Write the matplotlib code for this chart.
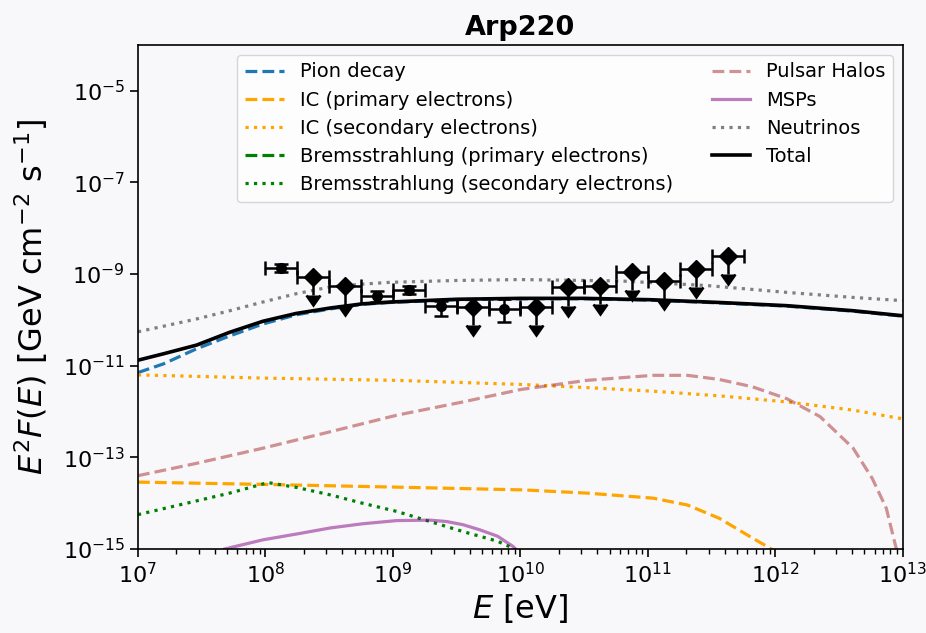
import numpy as np
import matplotlib
matplotlib.use("Agg")
import matplotlib.pyplot as plt

# ---------------- data (log10 E [eV], log10 E^2F [GeV cm^-2 s^-1]) ----------------
pion_logE = [7.0, 7.2, 7.46, 7.72, 7.98, 8.24, 8.51, 8.76, 8.98, 9.5, 10.0, 10.5, 11.02, 11.56, 12.09, 12.61, 13.0]
pion_logF = [-11.15, -10.96, -10.63, -10.35, -10.09, -9.89, -9.76, -9.66, -9.62, -9.56, -9.54, -9.54, -9.57, -9.63, -9.70, -9.81, -9.92]

ic_prim_logE = [7.0, 7.98, 9.03, 10.02, 10.52, 11.04, 11.31, 11.56, 11.82, 12.0, 12.05]
ic_prim_logF = [-13.54, -13.59, -13.65, -13.71, -13.78, -13.89, -14.04, -14.33, -14.76, -15.05, -15.2]

ic_sec_logE = [7.0, 7.98, 9.03, 10.02, 10.54, 11.06, 11.57, 12.09, 12.61, 13.0]
ic_sec_logF = [-11.20, -11.27, -11.32, -11.41, -11.48, -11.56, -11.66, -11.79, -11.97, -12.16]

brem_prim_logE = []
brem_prim_logF = []

brem_sec_logE = [7.0, 7.46, 7.72, 8.02, 8.25, 8.51, 8.76, 9.03, 9.29, 9.55, 9.82, 9.94, 10.0]
brem_sec_logF = [-14.25, -13.95, -13.78, -13.55, -13.66, -13.82, -14.00, -14.18, -14.40, -14.62, -14.83, -14.98, -15.1]

halo_logE = [7.0, 7.46, 7.98, 8.51, 9.03, 9.55, 10.0, 10.52, 11.04, 11.31, 11.56, 11.82, 12.09, 12.35, 12.61, 12.76, 12.87, 12.94, 12.97]
halo_logF = [-13.40, -13.13, -12.80, -12.44, -12.08, -11.79, -11.52, -11.32, -11.21, -11.21, -11.30, -11.46, -11.72, -12.11, -12.80, -13.46, -14.11, -14.9, -15.2]

msp_logE = [7.68, 7.98, 8.25, 8.51, 8.76, 9.03, 9.29, 9.42, 9.55, 9.68, 9.82, 9.94, 10.0]
msp_logF = [-15.0, -14.80, -14.67, -14.54, -14.45, -14.38, -14.37, -14.40, -14.47, -14.58, -14.72, -14.94, -15.1]

nu_logE = [7.0, 7.46, 7.72, 7.98, 8.24, 8.51, 8.76, 8.98, 9.5, 10.0, 10.78, 11.46, 12.09, 12.61, 13.0]
nu_logF = [-10.26, -9.98, -9.80, -9.61, -9.43, -9.28, -9.22, -9.18, -9.14, -9.12, -9.15, -9.25, -9.40, -9.51, -9.58]

total_logE = [7.0, 7.2, 7.46, 7.72, 7.98, 8.24, 8.51, 8.76, 8.98, 9.5, 10.0, 10.5, 11.02, 11.56, 12.09, 12.61, 13.0]
total_logF = [-10.88, -10.74, -10.55, -10.27, -10.03, -9.86, -9.74, -9.65, -9.61, -9.55, -9.53, -9.53, -9.56, -9.62, -9.69, -9.80, -9.91]

# Fermi-LAT data points
pts_logE = [8.125, 8.375, 8.625, 8.875, 9.125, 9.375, 9.625, 9.875, 10.125, 10.375, 10.625, 10.875, 11.125, 11.375, 11.625]
pts_logF = [-8.87, -9.06, -9.27, -9.47, -9.35, -9.69, -9.72, -9.76, -9.72, -9.29, -9.25, -8.96, -9.15, -8.88, -8.60]
pts_is_ul = [False, True, True, False, False, False, True, False, True, True, True, True, True, True, True]
pts_err_lo_dex = [0.09, 0.0, 0.0, 0.14, 0.09, 0.22, 0.0, 0.28, 0.0, 0.0, 0.0, 0.0, 0.0, 0.0, 0.0]
pts_err_hi_dex = [0.09, 0.0, 0.0, 0.10, 0.09, 0.11, 0.0, 0.22, 0.0, 0.0, 0.0, 0.0, 0.0, 0.0, 0.0]
bin_half_dex = 0.125

title = "Arp220"

# ---------------- plot ----------------
bg = "#f8f8fb"
fig = plt.figure(figsize=(9.26, 6.33), dpi=100, facecolor=bg)
ax = fig.add_axes([0.149, 0.1327, 0.826, 0.7963])
ax.set_facecolor(bg)

def p(le, lf):
    return 10 ** np.asarray(le, float), 10 ** np.asarray(lf, float)

LW = 2.3
ax.plot(*p(pion_logE, pion_logF), ls="--", color="#1f77b4", lw=LW, label="Pion decay")
ax.plot(*p(ic_prim_logE, ic_prim_logF), ls="--", color="orange", lw=LW, label="IC (primary electrons)")
ax.plot(*p(ic_sec_logE, ic_sec_logF), ls=":", color="orange", lw=LW, label="IC (secondary electrons)")
ax.plot(*p(brem_prim_logE, brem_prim_logF), ls="--", color="green", lw=LW, label="Bremsstrahlung (primary electrons)")
ax.plot(*p(brem_sec_logE, brem_sec_logF), ls=":", color="green", lw=LW, label="Bremsstrahlung (secondary electrons)")
ax.plot(*p(halo_logE, halo_logF), ls="--", color="brown", alpha=0.5, lw=LW, label="Pulsar Halos")
ax.plot(*p(msp_logE, msp_logF), ls="-", color="purple", alpha=0.5, lw=LW, label="MSPs")
ax.plot(*p(nu_logE, nu_logF), ls=":", color="grey", lw=LW, label="Neutrinos")
ax.plot(*p(total_logE, total_logF), ls="-", color="black", lw=2.6, label="Total")

E = 10 ** np.asarray(pts_logE)
F = 10 ** np.asarray(pts_logF)
ul = np.asarray(pts_is_ul)
xlo = E - 10 ** (np.asarray(pts_logE) - bin_half_dex)
xhi = 10 ** (np.asarray(pts_logE) + bin_half_dex) - E
ylo = F - 10 ** (np.asarray(pts_logF) - np.asarray(pts_err_lo_dex))
yhi = 10 ** (np.asarray(pts_logF) + np.asarray(pts_err_hi_dex)) - F

det = ~ul
ax.errorbar(E[det], F[det], xerr=[xlo[det], xhi[det]], yerr=[ylo[det], yhi[det]],
            fmt="o", color="black", ms=7, capsize=5, elinewidth=1.8, capthick=1.8, zorder=5)
ax.errorbar(E[ul], F[ul], xerr=[xlo[ul], xhi[ul]], yerr=0.6 * F[ul], uplims=True,
            fmt="D", color="black", ms=9, capsize=5, elinewidth=1.8, capthick=1.8, zorder=5)

ax.set_xscale("log")
ax.set_yscale("log")
ax.set_xlim(1e7, 1e13)
ax.set_ylim(1e-15, 1e-4)
ax.set_yticks([1e-15, 1e-13, 1e-11, 1e-9, 1e-7, 1e-5])
ax.yaxis.set_minor_locator(matplotlib.ticker.NullLocator())
ax.tick_params(axis="both", which="major", labelsize=16, length=6, width=1.2)
ax.tick_params(axis="x", which="minor", length=3.5, width=1.0)
for s in ax.spines.values():
    s.set_linewidth(1.2)

ax.set_xlabel(r"$E$ [eV]", fontsize=23, labelpad=3)
ax.set_ylabel(r"$E^2F(E)$ [GeV cm$^{-2}$ s$^{-1}$]", fontsize=23, labelpad=9)
ax.set_title(title, fontsize=19.5, fontweight="bold", pad=7)

ax.legend(loc="upper right", ncol=2, fontsize=14, columnspacing=2.0, labelspacing=0.47)

fig.savefig("out.png", dpi=100, facecolor=bg)
